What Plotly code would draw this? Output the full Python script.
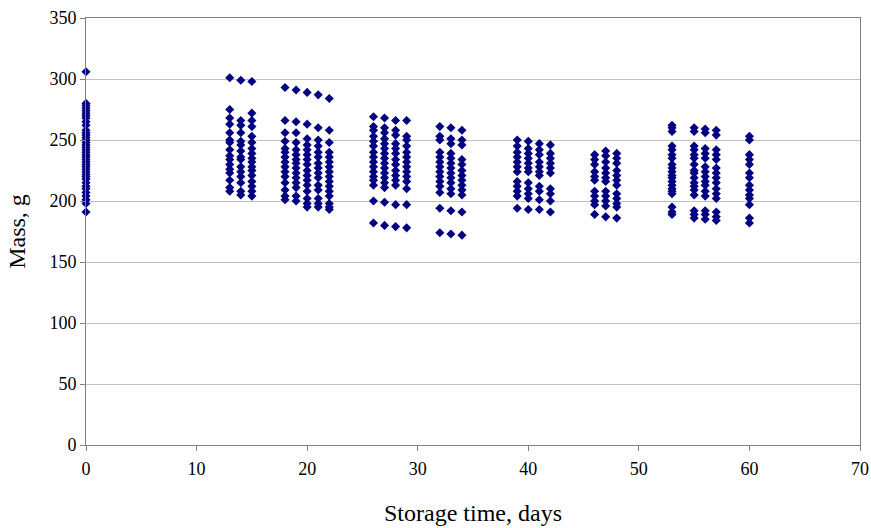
import plotly.graph_objects as go

# Storage days and mass measurements (g) for each day
d0 = [306, 280, 278, 276, 274, 272, 270, 268, 265, 262, 258, 256, 254, 252, 250, 248, 246, 244, 242,
      240, 238, 236, 234, 232, 230, 228, 226, 224, 222, 220, 218, 215, 212, 210, 207, 204, 201, 198, 191]
d13 = [301, 275, 268, 263, 256, 250, 248, 242, 237, 234, 230, 226, 223, 217, 211, 208]
d14 = [299, 266, 262, 256, 249, 246, 241, 236, 234, 228, 224, 220, 215, 208, 205]
d15 = [298, 272, 266, 261, 253, 248, 243, 239, 235, 232, 228, 225, 221, 216, 212, 208, 204]
d18 = [293, 266, 256, 249, 243, 240, 236, 232, 228, 224, 220, 215, 209, 204, 201]
d19 = [291, 265, 256, 248, 242, 238, 234, 231, 227, 223, 219, 215, 211, 204, 200]
d20 = [289, 263, 251, 246, 242, 238, 234, 230, 225, 221, 217, 213, 208, 202, 198, 195]
d21 = [287, 260, 250, 245, 240, 236, 231, 227, 223, 219, 213, 209, 202, 198, 195]
d22 = [284, 258, 248, 240, 236, 232, 228, 224, 220, 216, 212, 208, 204, 198, 195, 193]
d26 = [269, 261, 258, 253, 249, 245, 240, 236, 232, 228, 224, 220, 217, 213, 200, 182]
d27 = [268, 260, 256, 251, 247, 243, 239, 235, 231, 227, 223, 219, 215, 211, 199, 180]
d28 = [266, 258, 254, 247, 243, 239, 234, 230, 225, 221, 217, 213, 197, 179]
d29 = [266, 253, 250, 245, 240, 236, 232, 228, 224, 220, 216, 210, 197, 178]
d32 = [261, 253, 250, 240, 236, 232, 228, 224, 220, 216, 212, 207, 194, 174]
d33 = [260, 251, 247, 239, 235, 231, 227, 223, 219, 215, 210, 206, 192, 173]
d34 = [258, 250, 246, 234, 230, 225, 221, 217, 213, 209, 205, 191, 172]
d39 = [250, 245, 240, 236, 232, 228, 224, 216, 212, 208, 204, 194]
d40 = [249, 243, 239, 235, 231, 227, 224, 215, 210, 206, 202, 193]
d41 = [247, 242, 238, 232, 228, 224, 221, 212, 208, 201, 193]
d42 = [246, 239, 235, 231, 227, 223, 210, 206, 200, 191]
d46 = [238, 234, 230, 224, 220, 217, 208, 204, 200, 197, 189]
d47 = [241, 237, 232, 227, 223, 219, 216, 208, 204, 200, 196, 187]
d48 = [239, 235, 231, 225, 221, 217, 213, 206, 202, 198, 195, 186]
d53 = [262, 260, 257, 245, 242, 238, 235, 230, 227, 224, 221, 219, 216, 213, 210, 208, 206, 195, 191, 189]
d55 = [260, 257, 245, 242, 238, 235, 230, 225, 223, 219, 215, 212, 209, 205, 192, 189, 186]
d56 = [259, 256, 243, 239, 235, 228, 224, 220, 216, 213, 208, 204, 192, 189, 185]
d57 = [258, 254, 242, 238, 234, 227, 223, 219, 215, 210, 206, 202, 191, 187, 184]
d60 = [253, 250, 238, 234, 230, 223, 219, 213, 209, 205, 202, 197, 186, 182]

days = [0, 13, 14, 15, 18, 19, 20, 21, 22, 26, 27, 28, 29, 32, 33, 34,
        39, 40, 41, 42, 46, 47, 48, 53, 55, 56, 57, 60]
masses = [d0, d13, d14, d15, d18, d19, d20, d21, d22, d26, d27, d28, d29, d32, d33, d34,
          d39, d40, d41, d42, d46, d47, d48, d53, d55, d56, d57, d60]

x, y = [], []
for d, ms in zip(days, masses):
    x.extend([d] * len(ms))
    y.extend(ms)

fig = go.Figure(go.Scatter(
    x=x, y=y, mode="markers", cliponaxis=False,
    marker=dict(symbol="diamond", size=7, color="#000080", line=dict(width=0)),
    showlegend=False,
))

font_family = "Liberation Serif, Times New Roman, serif"
fig.update_layout(
    width=871, height=528,
    margin=dict(l=86, r=11, t=18, b=83),
    paper_bgcolor="white", plot_bgcolor="white",
    font=dict(family=font_family, size=18, color="black"),
)
fig.update_xaxes(
    range=[0, 70], tickvals=[0, 10, 20, 30, 40, 50, 60, 70],
    showgrid=False, zeroline=False, automargin=False,
    showline=True, linecolor="#808080", linewidth=1, mirror=True,
    ticks="outside", ticklen=5, tickcolor="#808080", ticklabelstandoff=2,
    title=dict(text="Storage time, days", font=dict(size=24, family=font_family), standoff=26),
    tickfont=dict(size=18, family=font_family),
)
fig.update_yaxes(
    range=[0, 350], tickvals=[0, 50, 100, 150, 200, 250, 300, 350],
    showgrid=True, gridcolor="#c0c0c0", gridwidth=1, zeroline=False, automargin=False,
    showline=True, linecolor="#808080", linewidth=1, mirror=True,
    ticks="outside", ticklen=5, tickcolor="#808080",
    title=dict(text="Mass, g", font=dict(size=24, family=font_family), standoff=17),
    tickfont=dict(size=18, family=font_family),
)

fig.write_html("out.html")
